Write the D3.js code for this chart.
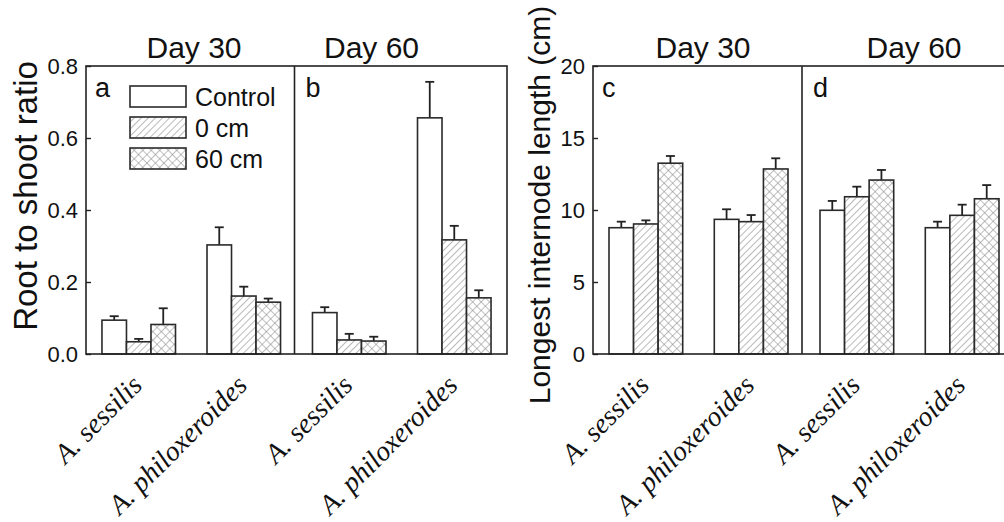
<!DOCTYPE html>
<html>
<head>
<meta charset="utf-8">
<script src="https://cdn.jsdelivr.net/npm/d3@7"></script>
<style>
  body { margin: 0; background: #fff; }
  text { font-family: Arial, "Liberation Sans", sans-serif; fill: #111; }
  .cat { font-family: "Liberation Serif", "Times New Roman", serif; font-style: italic; }
</style>
</head>
<body>
<div id="chart"></div>
<script>
// data
var species = ["A. sessilis", "A. philoxeroides"];
var treatments = ["Control", "0 cm", "60 cm"];
var days = ["Day 30", "Day 60"];

// root to shoot ratio (panels a, b)
var rsMean30 = [[0.094, 0.034, 0.082], [0.303, 0.161, 0.144]];
var rsErr30  = [[0.011, 0.008, 0.045], [0.049, 0.026, 0.010]];
var rsMean60 = [[0.115, 0.039, 0.036], [0.656, 0.317, 0.156]];
var rsErr60  = [[0.015, 0.017, 0.012], [0.100, 0.039, 0.021]];

// longest internode length (panels c, d)
var ilMean30 = [[8.77, 9.03, 13.25], [9.35, 9.19, 12.85]];
var ilErr30  = [[0.42, 0.25, 0.50], [0.70, 0.46, 0.74]];
var ilMean60 = [[9.98, 10.92, 12.08], [8.77, 9.63, 10.78]];
var ilErr60  = [[0.65, 0.70, 0.70], [0.42, 0.74, 0.95]];

var rsTicks = [0, 0.2, 0.4, 0.6, 0.8];
var ilTicks = [0, 5, 10, 15, 20];

var svgWidth = 1004, svgHeight = 522;
var plotTop = 66, plotBottom = 354;

var svg = d3.select("#chart").append("svg")
    .attr("width", svgWidth)
    .attr("height", svgHeight);

// fill patterns
var defs = svg.append("defs");
var hatch = defs.append("pattern")
    .attr("id", "hatch")
    .attr("patternUnits", "userSpaceOnUse")
    .attr("width", 5).attr("height", 5)
    .attr("patternTransform", "rotate(45)");
hatch.append("rect").attr("width", 5).attr("height", 5).attr("fill", "#fff");
hatch.append("line").attr("x1", 0).attr("y1", 0).attr("x2", 0).attr("y2", 5)
    .attr("stroke", "#8a8a8a").attr("stroke-width", 1.2);

var cross = defs.append("pattern")
    .attr("id", "cross")
    .attr("patternUnits", "userSpaceOnUse")
    .attr("width", 6).attr("height", 6)
    .attr("patternTransform", "rotate(45)");
cross.append("rect").attr("width", 6).attr("height", 6).attr("fill", "#fff");
cross.append("line").attr("x1", 0).attr("y1", 0).attr("x2", 0).attr("y2", 6)
    .attr("stroke", "#8a8a8a").attr("stroke-width", 1.1);
cross.append("line").attr("x1", 0).attr("y1", 0).attr("x2", 6).attr("y2", 0)
    .attr("stroke", "#8a8a8a").attr("stroke-width", 1.1);

var fills = ["#fff", "url(#hatch)", "url(#cross)"];

// draws one two-panel chart
function drawChart(opt) {
    var y = d3.scaleLinear().domain(opt.domain).range([plotBottom, plotTop]);
    var panelW = (opt.right - opt.left) / 2;

    var x0 = d3.scaleBand().domain(species).range([0, panelW])
        .paddingInner(0.3).paddingOuter(0.152);
    var x1 = d3.scaleBand().domain(treatments).range([0, x0.bandwidth()]);

    var g = svg.append("g");

    opt.panels.forEach(function(p, pi) {
        var px = opt.left + pi * panelW;
        var pg = g.append("g").attr("transform", "translate(" + px + ",0)");

        species.forEach(function(sp, si) {
            var gg = pg.append("g").attr("transform", "translate(" + x0(sp) + ",0)");
            treatments.forEach(function(tr, ti) {
                var v = p.mean[si][ti], e = p.err[si][ti];
                var bx = x1(tr), bw = x1.bandwidth();
                var cx = bx + bw / 2;
                gg.append("line")
                    .attr("x1", cx).attr("x2", cx)
                    .attr("y1", y(v)).attr("y2", y(v + e))
                    .attr("stroke", "#222").attr("stroke-width", 1.8);
                gg.append("line")
                    .attr("x1", cx - 4.5).attr("x2", cx + 4.5)
                    .attr("y1", y(v + e)).attr("y2", y(v + e))
                    .attr("stroke", "#222").attr("stroke-width", 1.8);
                gg.append("rect")
                    .attr("x", bx).attr("width", bw)
                    .attr("y", y(v)).attr("height", y(0) - y(v))
                    .attr("fill", fills[ti])
                    .attr("stroke", "#2a2a2a").attr("stroke-width", 1.6);
            });

            // species labels
            pg.append("text")
                .attr("class", "cat")
                .attr("transform", "translate(" + (x0(sp) + x0.bandwidth() / 2 - 6) + "," + 376 + ") rotate(-45)")
                .attr("text-anchor", "end")
                .attr("dy", "0.55em")
                .style("font-size", "28px")
                .text(sp);
        });

        // panel letter
        pg.append("text")
            .attr("x", 9).attr("y", 97)
            .style("font-size", "27px")
            .text(p.letter);

        // day title
        g.append("text")
            .attr("x", px + p.titleX).attr("y", 58)
            .attr("text-anchor", "middle")
            .style("font-size", "30px")
            .text(days[pi]);
    });

    // frame
    g.append("rect")
        .attr("x", opt.left).attr("y", plotTop)
        .attr("width", opt.right - opt.left).attr("height", plotBottom - plotTop)
        .attr("fill", "none").attr("stroke", "#222").attr("stroke-width", 1.6);
    g.append("line")
        .attr("x1", opt.left + panelW - 2).attr("x2", opt.left + panelW - 2)
        .attr("y1", plotTop).attr("y2", plotBottom)
        .attr("stroke", "#222").attr("stroke-width", 1.6);

    // y axis, inward ticks
    var yAxis = d3.axisLeft(y).tickValues(opt.ticks).tickFormat(opt.format)
        .tickSizeInner(-5).tickSizeOuter(0).tickPadding(8);
    var ax = g.append("g").attr("transform", "translate(" + opt.left + ",0)").call(yAxis);
    ax.select(".domain").remove();
    ax.selectAll(".tick line").attr("stroke", "#222").attr("stroke-width", 1.4);
    ax.selectAll(".tick text").style("font-size", "22px").attr("fill", "#111");

    // y axis title
    g.append("text")
        .attr("transform", "translate(" + opt.labelX + "," + opt.labelY + ") rotate(-90)")
        .attr("text-anchor", "middle")
        .style("font-size", opt.labelSize + "px")
        .text(opt.label);

    // legend (only in panel a)
    if (opt.legend) {
        var lg = g.append("g").attr("transform", "translate(" + (opt.left + 44) + "," + 86 + ")");
        treatments.forEach(function(tr, ti) {
            lg.append("rect")
                .attr("x", 0).attr("y", ti * 31)
                .attr("width", 56).attr("height", 21)
                .attr("fill", fills[ti])
                .attr("stroke", "#2a2a2a").attr("stroke-width", 1.6);
            lg.append("text")
                .attr("x", 65).attr("y", ti * 31 + 20)
                .style("font-size", "25px")
                .text(tr);
        });
    }
}

drawChart({
    left: 86, right: 507,
    domain: [0, 0.8], ticks: rsTicks, format: d3.format(".1f"),
    label: "Root to shoot ratio", labelX: 37, labelY: 196, labelSize: 33,
    legend: true,
    panels: [
        { mean: rsMean30, err: rsErr30, letter: "a", titleX: 108 },
        { mean: rsMean60, err: rsErr60, letter: "b", titleX: 75 }
    ]
});

drawChart({
    left: 593, right: 1015,
    domain: [0, 20], ticks: ilTicks, format: d3.format("d"),
    label: "Longest internode length (cm)", labelX: 550, labelY: 205, labelSize: 30,
    legend: false,
    panels: [
        { mean: ilMean30, err: ilErr30, letter: "c", titleX: 110 },
        { mean: ilMean60, err: ilErr60, letter: "d", titleX: 110 }
    ]
});
</script>
</body>
</html>
